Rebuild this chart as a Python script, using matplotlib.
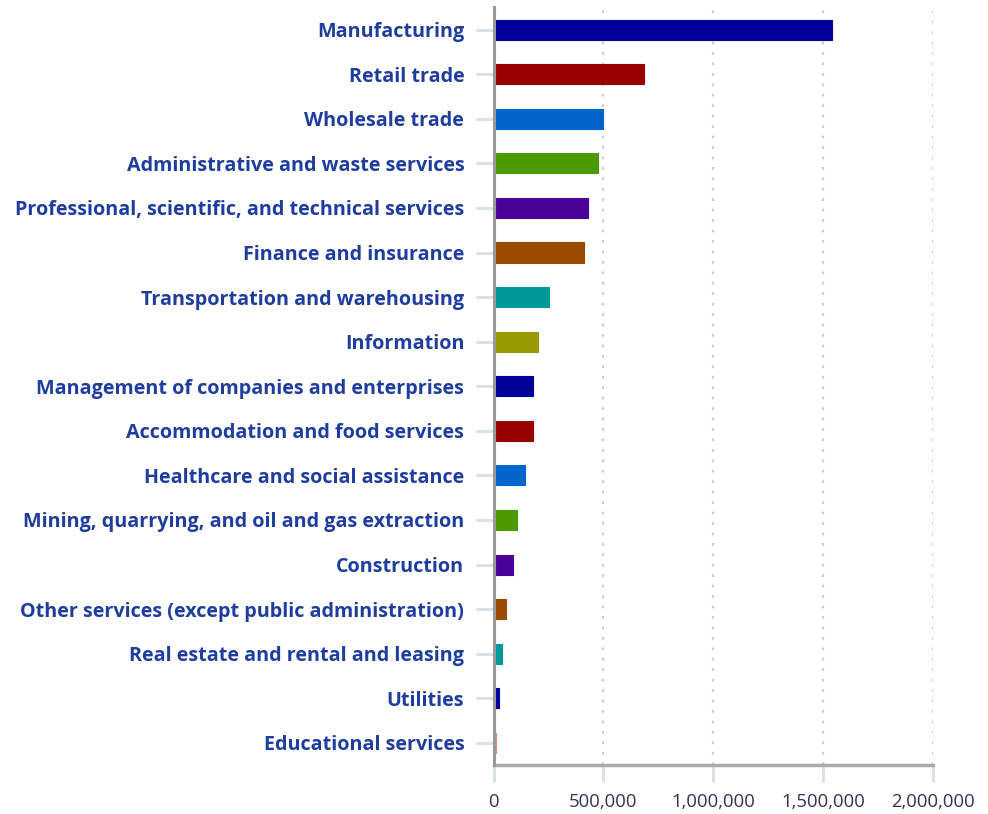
import matplotlib
matplotlib.use("Agg")
import matplotlib.pyplot as plt
from matplotlib.ticker import FuncFormatter

categories = [
    "Manufacturing",
    "Retail trade",
    "Wholesale trade",
    "Administrative and waste services",
    "Professional, scientific, and technical services",
    "Finance and insurance",
    "Transportation and warehousing",
    "Information",
    "Management of companies and enterprises",
    "Accommodation and food services",
    "Healthcare and social assistance",
    "Mining, quarrying, and oil and gas extraction",
    "Construction",
    "Other services (except public administration)",
    "Real estate and rental and leasing",
    "Utilities",
    "Educational services",
]
values = [1540000, 683000, 497000, 474000, 429000, 410000, 252000, 201000,
          181000, 181000, 143000, 108000, 90000, 55000, 37000, 27000, 10000]
colors = ["#000099", "#990000", "#0066cc", "#4d9900", "#4b0099", "#994c00",
          "#009999", "#999900", "#000099", "#990000", "#0066cc", "#4d9900",
          "#4b0099", "#994c00", "#009999", "#000099", "#d98880"]
xticks = [0, 500000, 1000000, 1500000, 2000000]

plt.rcParams['font.family'] = ['Open Sans', 'DejaVu Sans']

fig = plt.figure(figsize=(9.88, 8.14), dpi=100)
ax = fig.add_axes([0.4995, 0.060, 0.9443 - 0.4995, 0.991 - 0.060])

ypos = list(range(len(categories)))
ax.barh(ypos, values, height=0.45, color=colors, edgecolor=colors, linewidth=0.8, zorder=3)
ax.set_ylim(len(categories) - 0.5, -0.5)
ax.set_xlim(0, 2000000)
ax.set_yticks(ypos)
ax.set_yticklabels(categories, fontsize=14.2, fontweight='bold', color='#1f3d9e')
ax.set_xticks(xticks)
ax.xaxis.set_major_formatter(FuncFormatter(lambda v, p: f"{int(v):,}"))
for lab in ax.get_xticklabels():
    lab.set_fontsize(13.3)
    lab.set_color('#333355')

ax.tick_params(axis='y', length=13, width=2, color='#d5e0ea', pad=8)
ax.tick_params(axis='x', length=12, width=2, color='#d5e0ea', pad=8)

ax.grid(axis='x', linestyle=(0, (1.2, 3.5)), color='#cccccc', linewidth=1.6, zorder=0)
ax.grid(axis='y', visible=False)

for s in ['top', 'right']:
    ax.spines[s].set_visible(False)
ax.spines['left'].set_color('#999999')
ax.spines['left'].set_linewidth(2.2)
ax.spines['bottom'].set_color('#aaaaaa')
ax.spines['bottom'].set_linewidth(2.5)
ax.spines['left'].set_zorder(4)

fig.savefig("out.png", dpi=100)
